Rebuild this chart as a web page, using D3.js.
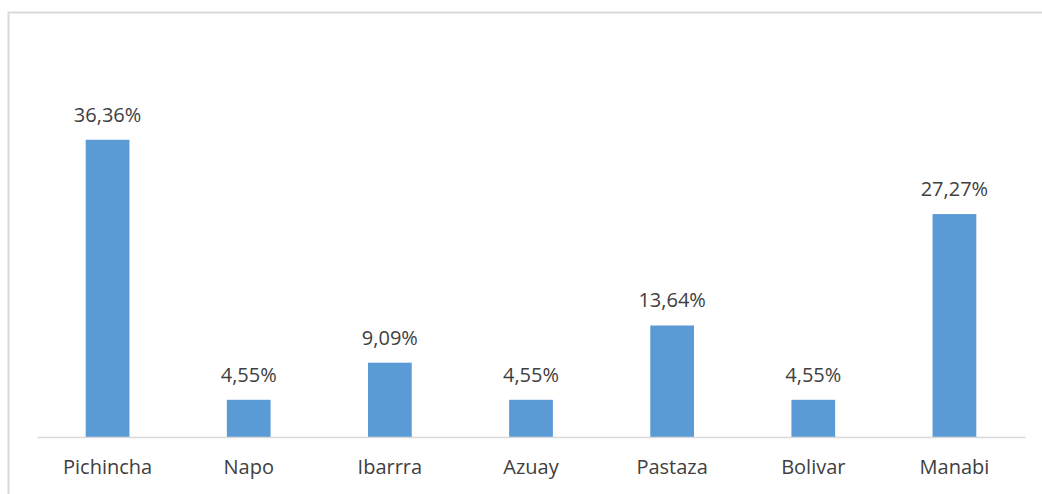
<!DOCTYPE html>
<html>
<head>
<meta charset="utf-8">
<script src="https://cdn.jsdelivr.net/npm/d3@7"></script>
<style>
  body { margin: 0; background: #fff; }
  text { font-family: "Open Sans", sans-serif; fill: #404040; }
</style>
</head>
<body>
<svg width="1042" height="494"></svg>
<script>
var provincias = ["Pichincha", "Napo", "Ibarrra", "Azuay", "Pastaza", "Bolivar", "Manabi"];
var porcentajes = [36.36, 4.55, 9.09, 4.55, 13.64, 4.55, 27.27];
var etiquetas = ["36,36%", "4,55%", "9,09%", "4,55%", "13,64%", "4,55%", "27,27%"];

var svg = d3.select("svg");

// chart frame (runs off the right and bottom edges)
svg.append("rect")
    .attr("x", 8.5).attr("y", 12.5)
    .attr("width", 1100).attr("height", 600)
    .attr("fill", "none")
    .attr("stroke", "#d9d9d9")
    .attr("stroke-width", 2);

var x = d3.scaleBand()
    .domain(provincias)
    .range([37, 1025])
    .paddingInner(0.69)
    .paddingOuter(0.345);

var y = d3.scaleLinear()
    .domain([0, 40])
    .range([437, 110]);

var data = provincias.map(function(p, i) {
  return { name: p, value: porcentajes[i], label: etiquetas[i] };
});

svg.append("g")
    .selectAll("rect")
    .data(data)
    .enter().append("rect")
      .attr("x", function(d) { return x(d.name); })
      .attr("y", function(d) { return y(d.value); })
      .attr("width", x.bandwidth())
      .attr("height", function(d) { return y(0) - y(d.value); })
      .attr("fill", "#5b9bd5");

svg.append("g")
    .selectAll("text")
    .data(data)
    .enter().append("text")
      .attr("x", function(d) { return x(d.name) + x.bandwidth() / 2; })
      .attr("y", function(d) { return y(d.value) - 18; })
      .attr("text-anchor", "middle")
      .style("font-size", "20px")
      .text(function(d) { return d.label; });

// x axis
var xAxis = svg.append("g")
    .attr("transform", "translate(0,437)")
    .call(d3.axisBottom(x).tickSize(0).tickPadding(23));
xAxis.select(".domain").attr("stroke", "#d9d9d9").attr("stroke-width", 1.5);
xAxis.selectAll("text")
    .style("font-size", "20px")
    .attr("fill", "#404040")
    .attr("font-family", "Open Sans, sans-serif");
</script>
</body>
</html>
